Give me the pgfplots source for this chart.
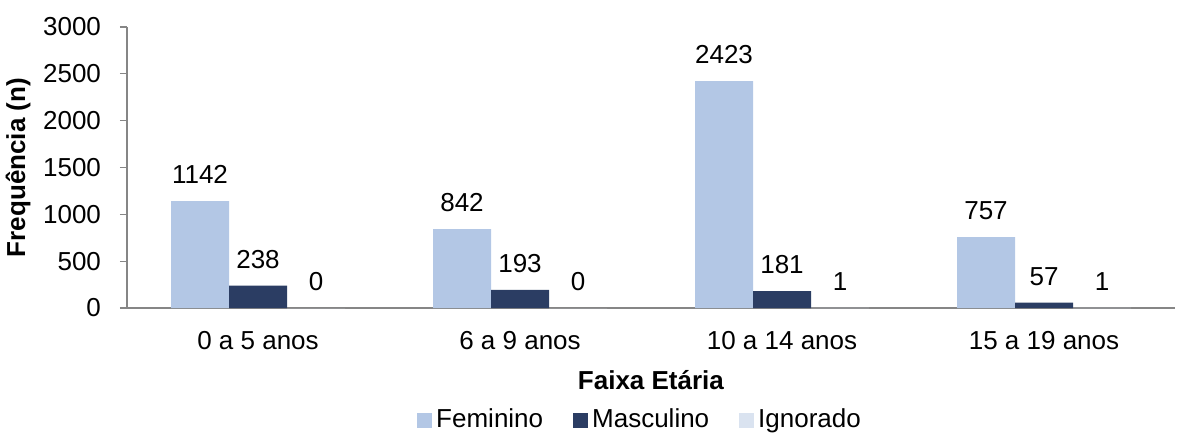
\documentclass[border=0pt]{standalone}
\usepackage{fontspec}
\setmainfont{Liberation Sans}
\usepackage{pgfplots}
\pgfplotsset{compat=1.18}
\definecolor{fem}{HTML}{B3C7E5}
\definecolor{masc}{HTML}{2B3D63}
\definecolor{ign}{HTML}{DAE3F0}
\definecolor{axgray}{HTML}{868686}

\begin{document}
\fontsize{13}{15}\selectfont
\begin{tikzpicture}
\useasboundingbox (-63.5pt,-62.5pt) rectangle (529.5pt,154pt);
\begin{axis}[
    at={(0,0)}, anchor=south west,
    width=524pt, height=140.5pt, scale only axis,
    ybar=0pt, bar width=29pt,
    xmin=-0.5, xmax=3.5,
    ymin=0, ymax=3000,
    ytick={0,500,...,3000},
    xtick={0,1,2,3},
    xticklabels={0 a 5 anos, 6 a 9 anos, 10 a 14 anos, 15 a 19 anos},
    extra x ticks={-0.5,0.5,1.5,2.5},
    extra x tick labels={},
    extra x tick style={major tick length=7pt, tick style={draw=axgray}},
    major x tick style={draw=none},
    axis x line*=bottom, axis y line*=left,
    axis line style={draw=axgray, line width=0.6pt},
    y tick style={draw=axgray, line width=0.6pt},
    tick align=outside, major tick length=3.5pt,
    /pgf/number format/assume math mode=true,
    /pgf/number format/1000 sep={},
    yticklabel style={font=\fontsize{13}{15}\selectfont, xshift=-5pt},
    xticklabel style={font=\fontsize{13}{15}\selectfont, yshift=-3.5pt},
    xlabel={\textbf{Faixa Etária}},
    ylabel={\textbf{Frequência (n)}},
    xlabel style={font=\fontsize{13}{15}\selectfont, at={(axis description cs:0.5,-0.256)}, anchor=center},
    ylabel style={font=\fontsize{13}{15}\selectfont, at={(axis description cs:-0.104,0.5)}, anchor=center, rotate=0},
    nodes near coords,
    every node near coord/.append style={font=\fontsize{13}{15}\selectfont, yshift=4pt},
    legend style={at={(0.4905,-0.399)}, anchor=center, draw=none,
        legend columns=3, font=\fontsize{13}{15}\selectfont,
        nodes={inner sep=2pt},
        /tikz/every even column/.append style={column sep=13pt}},
    legend image code/.code={\fill[#1] (0pt,-3.7pt) rectangle (7.5pt,3.8pt);},
    clip=false,
]
\addplot[fill=fem, draw=none] coordinates {(0,1142) (1,842) (2,2423) (3,757)};
\addplot[fill=masc, draw=none] coordinates {(0,238) (1,193) (2,181) (3,57)};
\addplot[fill=ign, draw=none] coordinates {(0,0) (1,0) (2,1) (3,1)};
\legend{Feminino, Masculino, Ignorado}
\end{axis}
\end{tikzpicture}
\end{document}
